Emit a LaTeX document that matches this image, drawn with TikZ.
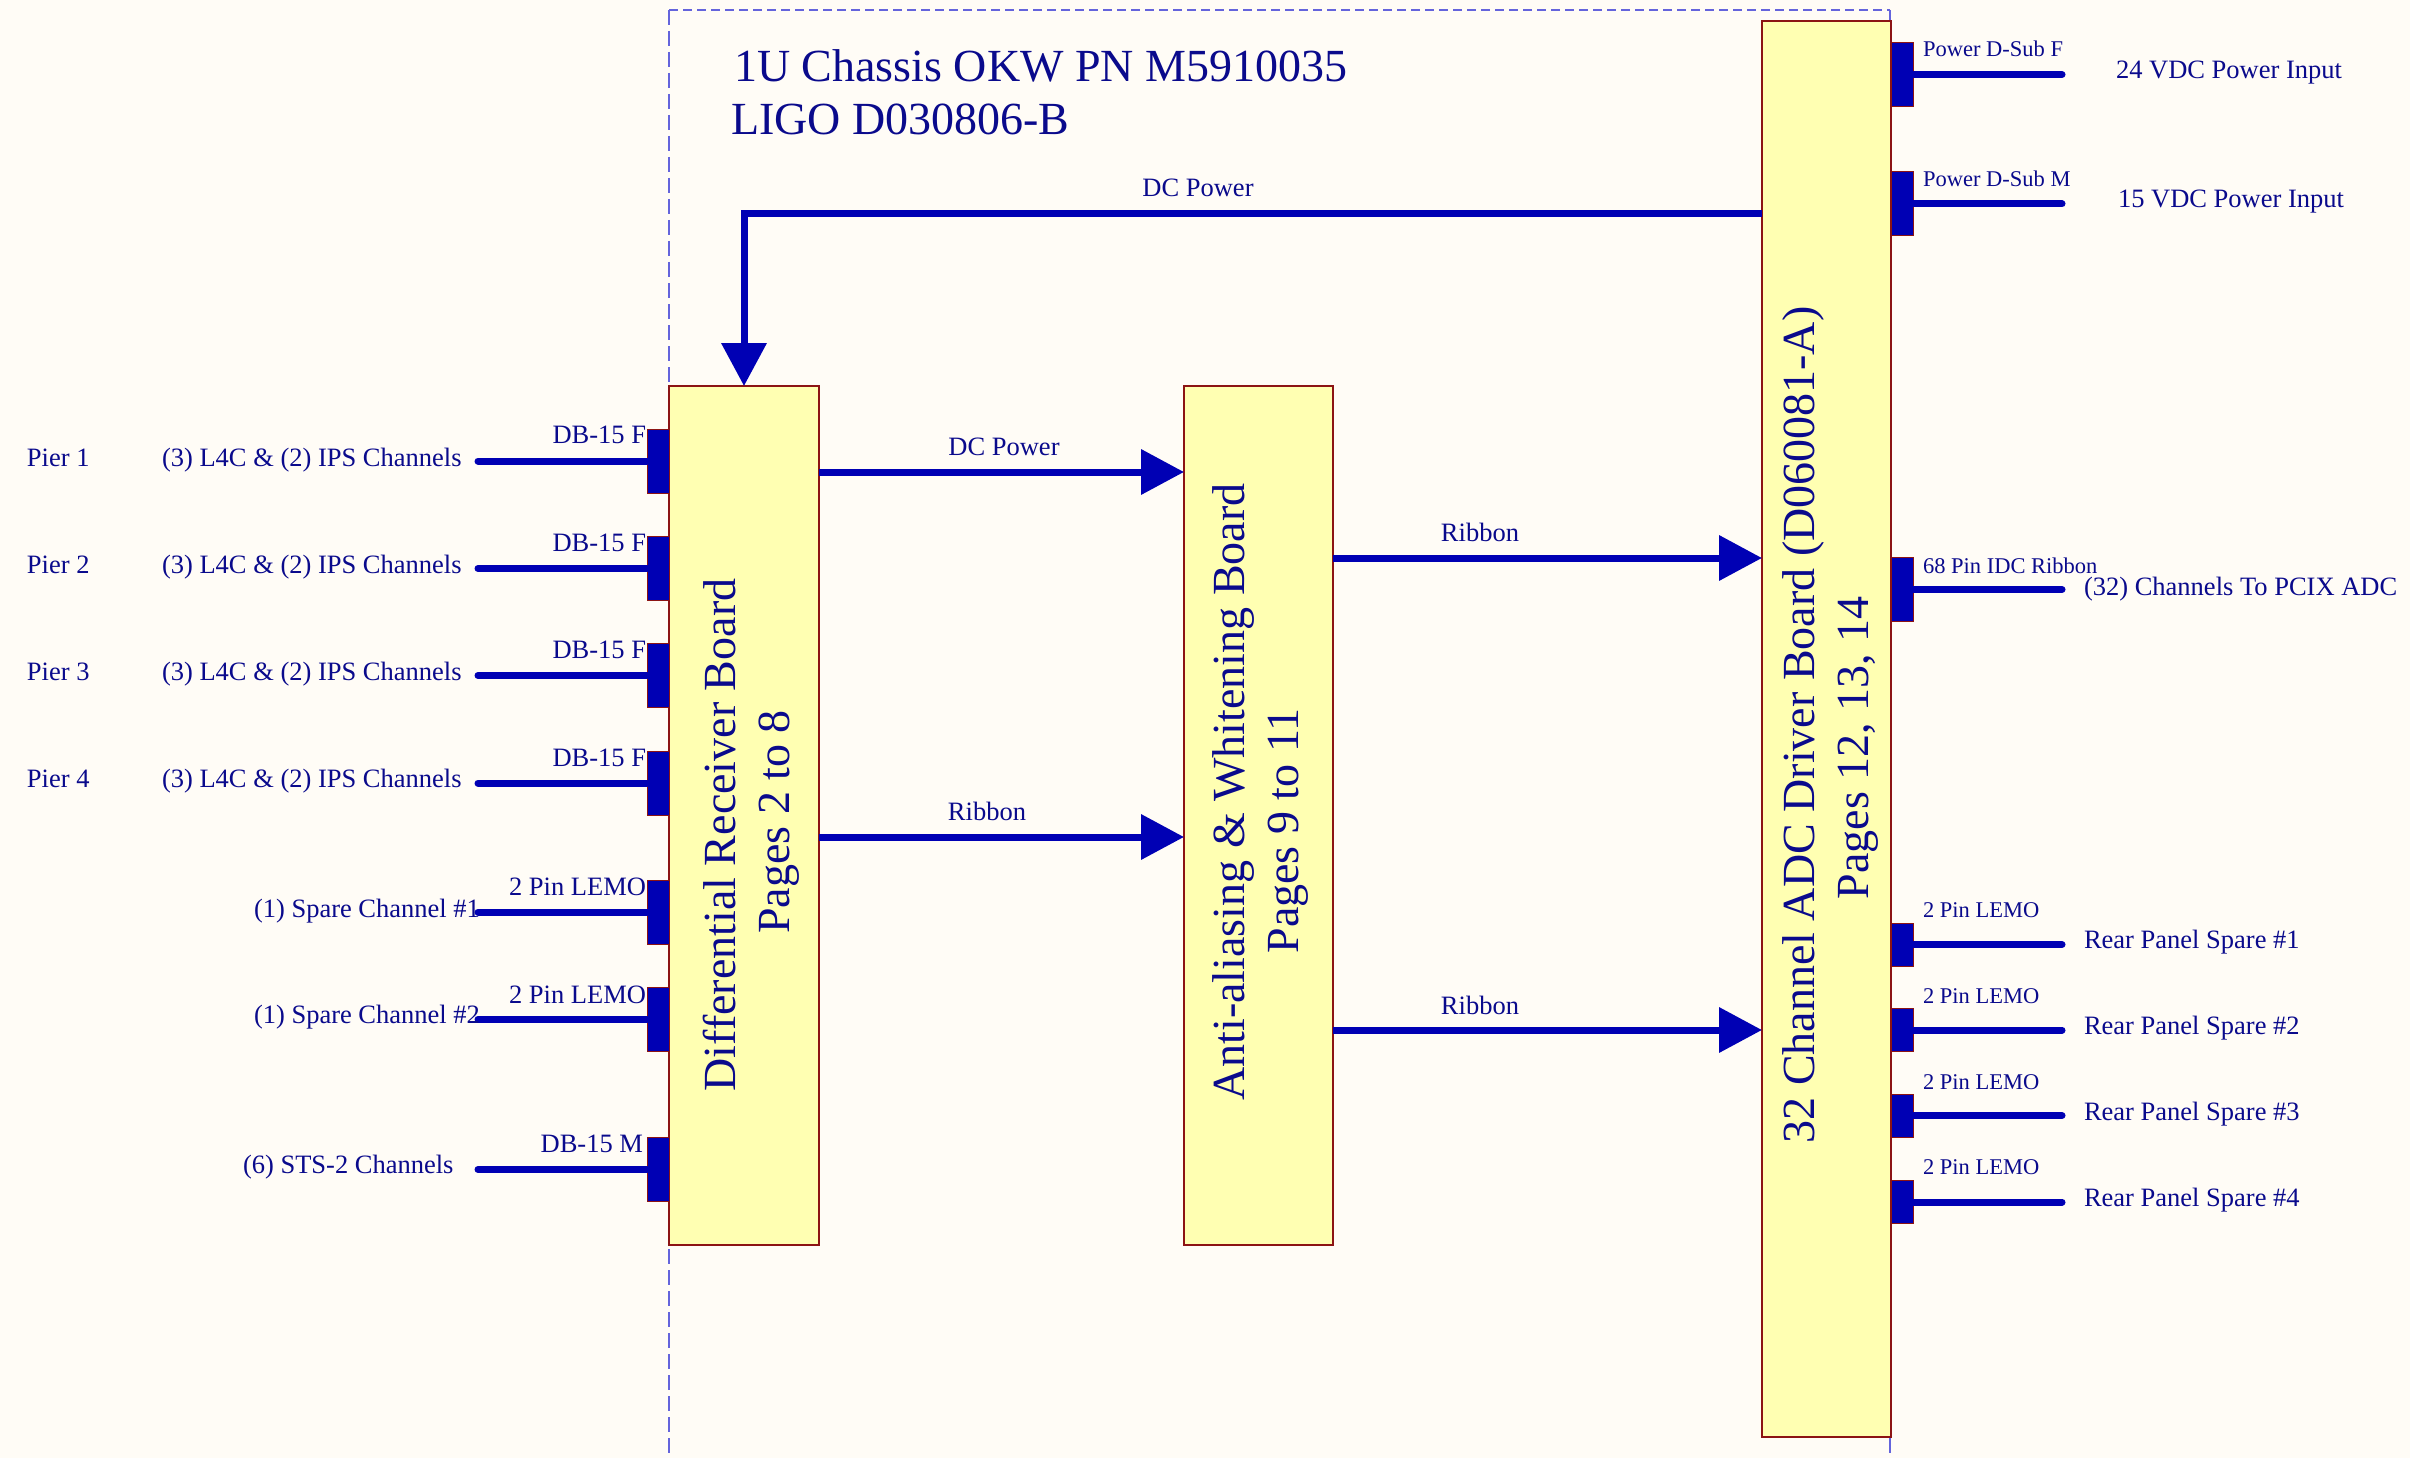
\documentclass[tikz,border=0pt]{standalone}
\usepackage{fontspec}
\setmainfont{Liberation Serif}
\usetikzlibrary{arrows.meta}
\definecolor{bg}{RGB}{255,252,246}
\definecolor{boxfill}{RGB}{255,255,178}
\definecolor{boxedge}{RGB}{140,20,20}
\definecolor{wire}{RGB}{0,0,180}
\definecolor{ink}{RGB}{10,10,140}
\definecolor{chassis}{RGB}{100,100,220}
\begin{document}
\begin{tikzpicture}[x=1pt,y=-1pt,
  board/.style={draw=boxedge, line width=1.5pt, fill=boxfill, inner sep=0pt, outer sep=0pt},
  plug/.style={draw=boxedge, line width=1pt, fill=wire, minimum width=22pt, minimum height=64pt, inner sep=0pt, outer sep=0pt},
  rplug/.style={plug, minimum height=43pt},
  wirel/.style={draw=wire, line width=7pt, line cap=round},
  flow/.style={draw=wire, line width=7pt, -{Triangle[length=43pt,width=44pt]}},
  txt/.style={text=ink, inner sep=0pt, outer sep=0pt},
  big/.style={txt, font=\fontsize{46}{54}\selectfont},
  med/.style={txt, font=\fontsize{26.5}{30}\selectfont},
  sml/.style={txt, font=\fontsize{22.5}{26}\selectfont},
  chassisv/.style={draw=chassis, line width=1.5pt, dash pattern=on 15pt off 6pt},
  chassish/.style={draw=chassis, line width=1.5pt, dash pattern=on 9pt off 5pt}
]
\useasboundingbox (0,0) rectangle (2410,1458);
\fill[bg] (0,0) rectangle (2410,1458);

% chassis outline
\coordinate (chTL) at (669,10);
\coordinate (chTR) at (1890,10);
\coordinate (chBL) at (669,1470);
\coordinate (chBR) at (1890,1470);
\draw[chassish] (chTL) -- (chTR);
\draw[chassisv] (chTL) -- (chBL);
\draw[chassisv] (chTR) -- (chBR);

% boards
\node[board, minimum width=150pt, minimum height=859pt] (diff) at (744,815.5) {};
\node[board, minimum width=149pt, minimum height=859pt] (aa) at (1258.5,815.5) {};
\node[board, minimum width=129pt, minimum height=1416pt] (adc) at (1826.5,729) {};

% board texts
\node[big, rotate=90, anchor=base] (diffA) at (735,835) {Differential Receiver Board};
\node[big, rotate=90, anchor=base] (diffB) at (789,822) {Pages 2 to 8};
\node[big, rotate=90, anchor=base] (aaA) at (1244,792) {Anti-aliasing \& Whitening Board};
\node[big, rotate=90, anchor=base] (aaB) at (1298,831) {Pages 9 to 11};
\node[big, rotate=90, anchor=base] (adcA) at (1814,725) {32 Channel ADC Driver Board (D060081-A)};
\node[big, rotate=90, anchor=base] (adcB) at (1868,748) {Pages 12, 13, 14};

% title
\node[big, anchor=base west] (title1) at (734,82) {1U Chassis OKW PN M5910035};
\node[big, anchor=base west] (title2) at (731,135) {LIGO D030806-B};

% left plugs
\node[plug] (pL1) at (658,461) {};
\node[plug] (pL2) at (658,568.5) {};
\node[plug] (pL3) at (658,675.5) {};
\node[plug] (pL4) at (658,783) {};
\node[plug] (pL5) at (658,912) {};
\node[plug] (pL6) at (658,1019) {};
\node[plug] (pL7) at (658,1169.5) {};

\foreach \n/\y in {1/461,2/568.5,3/675.5,4/783,5/912,6/1019,7/1169.5}{
  \coordinate (eL\n) at (478,\y);
  \draw[wirel] (eL\n) -- (pL\n.west);
}

% left labels
\foreach \n/\b/\c in {1/466/443,2/573/551,3/680/658,4/787/766}{
  \node[med, anchor=base west] (pier\n) at (27,\b) {Pier \n};
  \node[med, anchor=base west] (ch\n) at (162,\b) {(3) L4C \& (2) IPS Channels};
  \node[med, anchor=base east] (db\n) at (646,\c) {DB-15 F};
}
\node[med, anchor=base west] (sp1) at (254,917) {(1) Spare Channel \#1};
\node[med, anchor=base east] (lm1) at (646,895) {2 Pin LEMO};
\node[med, anchor=base west] (sp2) at (254,1023) {(1) Spare Channel \#2};
\node[med, anchor=base east] (lm2) at (646,1003) {2 Pin LEMO};
\node[med, anchor=base west] (sts) at (243,1173) {(6) STS-2 Channels};
\node[med, anchor=base east] (dbm) at (643,1152) {DB-15 M};

% right plugs
\node[plug] (pR1) at (1902,74.5) {};
\node[plug] (pR2) at (1902,204) {};
\node[plug] (pR3) at (1902,589.5) {};
\node[rplug] (pR4) at (1902,944.5) {};
\node[rplug] (pR5) at (1902,1030) {};
\node[rplug] (pR6) at (1902,1115.5) {};
\node[rplug] (pR7) at (1902,1202) {};

\foreach \n/\y in {1/74.5,2/204,3/589.5,4/944.5,5/1030,6/1115.5,7/1202}{
  \coordinate (eR\n) at (2062,\y);
  \draw[wirel] (pR\n.east) -- (eR\n);
}

% right labels
\node[sml, anchor=base west] (lR1) at (1923,57) {Power D-Sub F};
\node[med, anchor=base west] (tR1) at (2116,79) {24 VDC Power Input};
\node[sml, anchor=base west] (lR2) at (1923,187) {Power D-Sub M};
\node[med, anchor=base west] (tR2) at (2118,208) {15 VDC Power Input};
\node[sml, anchor=base west] (lR3) at (1923,573) {68 Pin IDC Ribbon};
\node[med, anchor=base west] (tR3) at (2084,595) {(32) Channels To PCIX ADC};
\foreach \n/\a/\b/\k in {4/917/948/1,5/1003/1034/2,6/1089/1120/3,7/1174/1206/4}{
  \node[sml, anchor=base west] (lR\n) at (1923,\a) {2 Pin LEMO};
  \node[med, anchor=base west] (tR\n) at (2084,\b) {Rear Panel Spare \#\k};
}

% DC power from ADC board to differential receiver
\coordinate (dcbend) at (744,214);
\draw[flow] (adc.west |- dcbend) -- (dcbend) -- (diff.north);
\node[med, anchor=base] (dcl1) at (1198,197) {DC Power};

% internal flows
\coordinate (dc2) at (800,472);
\draw[flow] (diff.east |- dc2) -- (aa.west |- dc2);
\node[med, anchor=base] (dcl2) at (1004,455) {DC Power};

\coordinate (rb1) at (800,837);
\draw[flow] (diff.east |- rb1) -- (aa.west |- rb1);
\node[med, anchor=base] (rbl1) at (987,820) {Ribbon};

\coordinate (rb2) at (1300,558);
\draw[flow] (aa.east |- rb2) -- (adc.west |- rb2);
\node[med, anchor=base] (rbl2) at (1480,541) {Ribbon};

\coordinate (rb3) at (1300,1030);
\draw[flow] (aa.east |- rb3) -- (adc.west |- rb3);
\node[med, anchor=base] (rbl3) at (1480,1014) {Ribbon};
\end{tikzpicture}
\end{document}
